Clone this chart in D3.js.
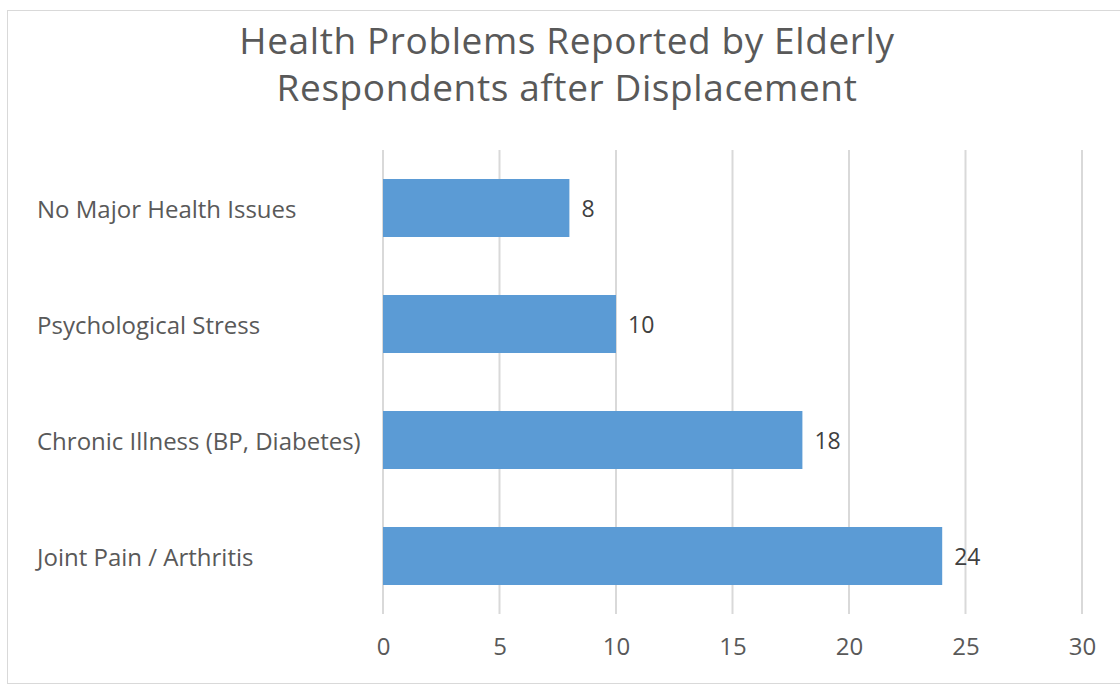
<!DOCTYPE html>
<html>
<head>
<meta charset="utf-8">
<script src="https://cdn.jsdelivr.net/npm/d3@7"></script>
<style>
  html, body { margin: 0; padding: 0; background: #fff; }
  svg { display: block; }
</style>
</head>
<body>
<svg id="chart" width="1120" height="691"></svg>
<script>
const titleLines = ["Health Problems Reported by Elderly", "Respondents after Displacement"];
const categories = ["No Major Health Issues", "Psychological Stress", "Chronic Illness (BP, Diabetes)", "Joint Pain / Arthritis"];
const values = [8, 10, 18, 24];
const tickValues = [0, 5, 10, 15, 20, 25, 30];

const svg = d3.select("#chart");
const W = 1120, H = 691;
const font = "'Open Sans', 'Noto Sans', sans-serif";

svg.append("rect").attr("x", 0).attr("y", 0).attr("width", W).attr("height", H).attr("fill", "#fff");
svg.append("rect").attr("x", 7.5).attr("y", 10.5).attr("width", W - 7).attr("height", 673)
  .attr("fill", "none").attr("stroke", "#d9d9d9").attr("stroke-width", 1);

const margin = { left: 383, right: 38, top: 150, bottom: 77 };
const x = d3.scaleLinear().domain([0, 30]).range([margin.left, W - margin.right]);
const y = d3.scaleBand().domain(categories).range([margin.top, H - margin.bottom]).paddingInner(0.5).paddingOuter(0.25);

// title
svg.append("g").selectAll("text").data(titleLines).join("text")
  .attr("x", 567).attr("y", (d, i) => 54 + i * 47)
  .attr("text-anchor", "middle")
  .attr("font-family", font).attr("font-size", 37).attr("letter-spacing", 0.6)
  .attr("fill", "#595959")
  .text(d => d);

// gridlines
svg.append("g").selectAll("line").data(tickValues).join("line")
  .attr("x1", d => x(d)).attr("x2", d => x(d))
  .attr("y1", margin.top).attr("y2", H - margin.bottom)
  .attr("stroke", "#d9d9d9").attr("stroke-width", 2);

// bars
svg.append("g").selectAll("rect").data(values).join("rect")
  .attr("x", x(0)).attr("y", (d, i) => y(categories[i]))
  .attr("width", d => x(d) - x(0)).attr("height", y.bandwidth())
  .attr("fill", "#5b9bd5");

// data labels
svg.append("g").selectAll("text").data(values).join("text")
  .attr("x", d => x(d) + 12).attr("y", (d, i) => y(categories[i]) + y.bandwidth() / 2 + 1)
  .attr("dy", "0.35em")
  .attr("font-family", font).attr("font-size", 23).attr("fill", "#404040")
  .text(d => d);

// y axis labels
const yAxis = d3.axisLeft(y).tickSize(0).tickPadding(0);
const gy = svg.append("g").attr("transform", `translate(37,2)`).call(yAxis);
gy.select(".domain").remove();
gy.selectAll("text").attr("text-anchor", "start").attr("x", 0)
  .attr("font-family", font).attr("font-size", 24).attr("fill", "#595959");

// x axis labels
const xAxis = d3.axisBottom(x).tickValues(tickValues).tickSize(0).tickPadding(0);
const gx = svg.append("g").attr("transform", `translate(0,${H - margin.bottom + 24})`).call(xAxis);
gx.select(".domain").remove();
gx.selectAll("text").attr("font-family", font).attr("font-size", 24).attr("fill", "#595959");
</script>
</body>
</html>
